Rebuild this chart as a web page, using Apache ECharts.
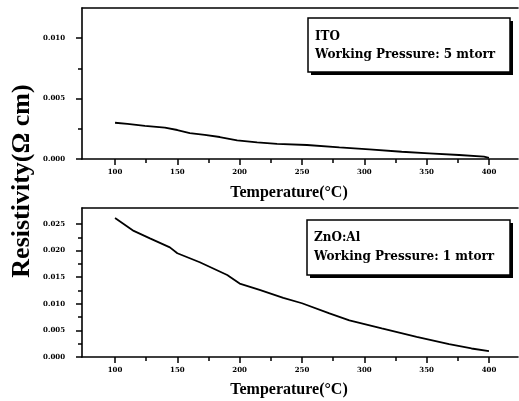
<!DOCTYPE html>
<html>
<head>
<meta charset="utf-8">
<script src="https://cdn.jsdelivr.net/npm/echarts@6/dist/echarts.min.js"></script>
<style>html,body{margin:0;padding:0;background:#fff;}#c{width:519px;height:401px;}</style>
</head>
<body>
<div id="c"></div>
<script>
// ---- data ----
const itoTemp = [100, 110, 124, 140, 150, 160, 172, 184, 198, 214, 230, 254, 280, 304, 330, 352, 376, 396, 400];
const itoRes  = [0.0030, 0.0029, 0.00275, 0.0026, 0.0024, 0.00215, 0.0020, 0.00182, 0.00155, 0.00138, 0.00126, 0.00116, 0.00097, 0.0008, 0.0006, 0.00047, 0.00033, 0.0002, 0.0001];
const znoTemp = [100, 115, 128, 144, 150, 168, 190, 200, 216, 235, 250, 272, 288, 314, 342, 368, 386, 400];
const znoRes  = [0.0261, 0.0237, 0.0223, 0.0206, 0.0195, 0.0178, 0.0154, 0.0138, 0.0126, 0.0111, 0.0101, 0.0082, 0.0069, 0.0054, 0.0038, 0.0024, 0.0016, 0.0011];
const xMajor = [100, 150, 200, 250, 300, 350, 400];
const xMinor = [125, 175, 225, 275, 325, 375];
const yTopMajor = [0, 0.005, 0.010];
const yTopMinor = [0.0025, 0.0075];
const yBotMajor = [0, 0.005, 0.010, 0.015, 0.020, 0.025];
const yBotMinor = [0.0025, 0.0075, 0.0125, 0.0175, 0.0225];
const xTitle = 'Temperature(°C)';
const yTitle = 'Resistivity(Ω cm)';
const box1 = ['ITO', 'Working Pressure: 5 mtorr'];
const box2 = ['ZnO:Al', 'Working Pressure: 1 mtorr'];

const SERIF = '"Liberation Serif", "DejaVu Serif", serif';
const DSERIF = '"DejaVu Serif", "Liberation Serif", serif';
const XMIN = 73.5, XMAX = 423.3;
const lineStyle = {color: '#000', width: 1.6};

function xAxes(gi) {
  return [
    {type: 'value', gridIndex: gi, min: XMIN, max: XMAX, position: 'bottom',
     axisLine: {show: true, onZero: false, lineStyle: lineStyle},
     axisTick: {show: true, customValues: xMajor, length: 6, lineStyle: {color: '#000', width: 1.5}},
     axisLabel: {show: true, customValues: xMajor, margin: 10, color: '#000',
                 fontFamily: DSERIF, fontWeight: 'bold', fontSize: 7},
     splitLine: {show: false}},
    {type: 'value', gridIndex: gi, min: XMIN, max: XMAX, position: 'bottom',
     axisLine: {show: false},
     axisTick: {show: true, customValues: xMinor, length: 4, lineStyle: {color: '#000', width: 1.5}},
     axisLabel: {show: false}, splitLine: {show: false}},
    {type: 'value', gridIndex: gi, min: XMIN, max: XMAX, position: 'top',
     axisLine: {show: true, onZero: false, lineStyle: lineStyle},
     axisTick: {show: false}, axisLabel: {show: false}, splitLine: {show: false}}
  ];
}
function yAxes(gi, max, major, minor) {
  return [
    {type: 'value', gridIndex: gi, min: 0, max: max, position: 'left',
     axisLine: {show: true, onZero: false, lineStyle: lineStyle},
     axisTick: {show: true, customValues: major, length: 6, lineStyle: {color: '#000', width: 1.5}},
     axisLabel: {show: true, customValues: major, margin: 17, color: '#000',
                 fontFamily: DSERIF, fontWeight: 'bold', fontSize: 7,
                 formatter: v => v.toFixed(3)},
     splitLine: {show: false}},
    {type: 'value', gridIndex: gi, min: 0, max: max, position: 'left',
     axisLine: {show: false},
     axisTick: {show: true, customValues: minor, length: 4, lineStyle: {color: '#000', width: 1.5}},
     axisLabel: {show: false}, splitLine: {show: false}}
  ];
}

function boxGraphic(x, y, w, h, lines, ty1, ty2) {
  return [
    {type: 'rect', shape: {x: x + 3, y: y + 3, width: w, height: h}, style: {fill: '#000'}, silent: true},
    {type: 'rect', shape: {x: x, y: y, width: w, height: h}, style: {fill: '#fff', stroke: '#000', lineWidth: 1.5}, silent: true},
    {type: 'text', x: x + 7, y: ty1, style: {text: lines[0], fill: '#000', font: 'bold 12px ' + DSERIF, verticalAlign: 'middle', align: 'left'}},
    {type: 'text', x: x + 7, y: ty2, style: {text: lines[1], fill: '#000', font: 'bold 12px ' + DSERIF, verticalAlign: 'middle', align: 'left'}}
  ];
}

const chart = echarts.init(document.getElementById('c'), null, {renderer: 'canvas'});
chart.setOption({
  animation: false,
  backgroundColor: '#fff',
  grid: [
    {left: 82, top: 8, right: 1, height: 151},
    {left: 82, top: 208, right: 1, height: 149}
  ],
  xAxis: [...xAxes(0), ...xAxes(1)],
  yAxis: [...yAxes(0, 0.0125, yTopMajor, yTopMinor), ...yAxes(1, 0.028, yBotMajor, yBotMinor)],
  series: [
    {type: 'line', xAxisIndex: 0, yAxisIndex: 0, showSymbol: false, symbol: 'none',
     lineStyle: {color: '#000', width: 1.8}, data: itoTemp.map((t, i) => [t, itoRes[i]])},
    {type: 'line', xAxisIndex: 3, yAxisIndex: 2, showSymbol: false, symbol: 'none',
     lineStyle: {color: '#000', width: 1.8}, data: znoTemp.map((t, i) => [t, znoRes[i]])}
  ],
  graphic: [
    {type: 'text', x: 22, y: 181, rotation: Math.PI / 2,
     style: {text: yTitle, fill: '#000', font: 'bold 26px ' + SERIF, align: 'center', verticalAlign: 'middle'}},
    {type: 'text', x: 289, y: 193,
     style: {text: xTitle, fill: '#000', font: 'bold 16px ' + SERIF, align: 'center', verticalAlign: 'middle'}},
    {type: 'text', x: 289, y: 390,
     style: {text: xTitle, fill: '#000', font: 'bold 16px ' + SERIF, align: 'center', verticalAlign: 'middle'}},
    ...boxGraphic(308, 18, 202, 54, box1, 37, 55),
    ...boxGraphic(307, 220, 203, 55, box2, 238, 257)
  ]
});
</script>
</body>
</html>
